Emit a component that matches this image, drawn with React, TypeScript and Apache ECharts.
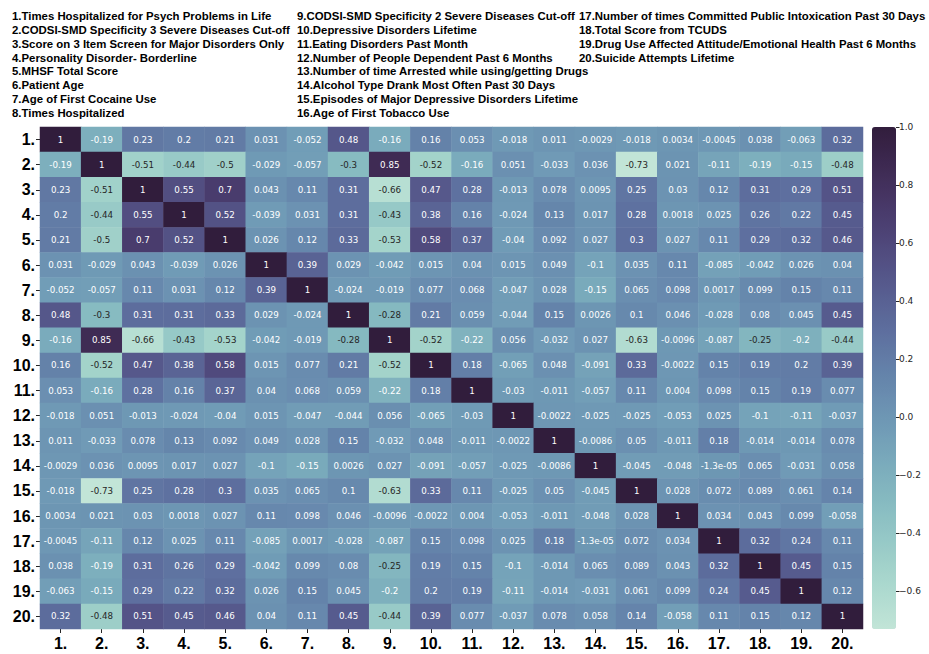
import React, { useEffect, useRef } from "react";
import * as echarts from "echarts";

// Variable names shown in the key above the matrix
const variableNames = [
  "Times Hospitalized for Psych Problems in Life",
  "CODSI-SMD Specificity 3 Severe Diseases Cut-off",
  "Score on 3 Item Screen for Major Disorders Only",
  "Personality Disorder- Borderline",
  "MHSF Total Score",
  "Patient Age",
  "Age of First Cocaine Use",
  "Times Hospitalized",
  "CODSI-SMD Specificity 2 Severe Diseases Cut-off",
  "Depressive Disorders Lifetime",
  "Eating Disorders Past Month",
  "Number of People Dependent Past 6 Months",
  "Number of time Arrested while using/getting Drugs",
  "Alcohol Type Drank Most Often Past 30 Days",
  "Episodes of Major Depressive Disorders Lifetime",
  "Age of First Tobacco Use",
  "Number of times Committed Public Intoxication Past 30 Days",
  "Total Score from TCUDS",
  "Drug Use Affected Attitude/Emotional Health Past 6 Months",
  "Suicide Attempts Lifetime",
];

const tickLabels = variableNames.map((_, i) => `${i + 1}.`);

// Correlation matrix, one row per variable
const row1 = [1, -0.19, 0.23, 0.2, 0.21, 0.031, -0.052, 0.48, -0.16, 0.16, 0.053, -0.018, 0.011, -0.0029, -0.018, 0.0034, -0.0045, 0.038, -0.063, 0.32];
const row2 = [-0.19, 1, -0.51, -0.44, -0.5, -0.029, -0.057, -0.3, 0.85, -0.52, -0.16, 0.051, -0.033, 0.036, -0.73, 0.021, -0.11, -0.19, -0.15, -0.48];
const row3 = [0.23, -0.51, 1, 0.55, 0.7, 0.043, 0.11, 0.31, -0.66, 0.47, 0.28, -0.013, 0.078, 0.0095, 0.25, 0.03, 0.12, 0.31, 0.29, 0.51];
const row4 = [0.2, -0.44, 0.55, 1, 0.52, -0.039, 0.031, 0.31, -0.43, 0.38, 0.16, -0.024, 0.13, 0.017, 0.28, 0.0018, 0.025, 0.26, 0.22, 0.45];
const row5 = [0.21, -0.5, 0.7, 0.52, 1, 0.026, 0.12, 0.33, -0.53, 0.58, 0.37, -0.04, 0.092, 0.027, 0.3, 0.027, 0.11, 0.29, 0.32, 0.46];
const row6 = [0.031, -0.029, 0.043, -0.039, 0.026, 1, 0.39, 0.029, -0.042, 0.015, 0.04, 0.015, 0.049, -0.1, 0.035, 0.11, -0.085, -0.042, 0.026, 0.04];
const row7 = [-0.052, -0.057, 0.11, 0.031, 0.12, 0.39, 1, -0.024, -0.019, 0.077, 0.068, -0.047, 0.028, -0.15, 0.065, 0.098, 0.0017, 0.099, 0.15, 0.11];
const row8 = [0.48, -0.3, 0.31, 0.31, 0.33, 0.029, -0.024, 1, -0.28, 0.21, 0.059, -0.044, 0.15, 0.0026, 0.1, 0.046, -0.028, 0.08, 0.045, 0.45];
const row9 = [-0.16, 0.85, -0.66, -0.43, -0.53, -0.042, -0.019, -0.28, 1, -0.52, -0.22, 0.056, -0.032, 0.027, -0.63, -0.0096, -0.087, -0.25, -0.2, -0.44];
const row10 = [0.16, -0.52, 0.47, 0.38, 0.58, 0.015, 0.077, 0.21, -0.52, 1, 0.18, -0.065, 0.048, -0.091, 0.33, -0.0022, 0.15, 0.19, 0.2, 0.39];
const row11 = [0.053, -0.16, 0.28, 0.16, 0.37, 0.04, 0.068, 0.059, -0.22, 0.18, 1, -0.03, -0.011, -0.057, 0.11, 0.004, 0.098, 0.15, 0.19, 0.077];
const row12 = [-0.018, 0.051, -0.013, -0.024, -0.04, 0.015, -0.047, -0.044, 0.056, -0.065, -0.03, 1, -0.0022, -0.025, -0.025, -0.053, 0.025, -0.1, -0.11, -0.037];
const row13 = [0.011, -0.033, 0.078, 0.13, 0.092, 0.049, 0.028, 0.15, -0.032, 0.048, -0.011, -0.0022, 1, -0.0086, 0.05, -0.011, 0.18, -0.014, -0.014, 0.078];
const row14 = [-0.0029, 0.036, 0.0095, 0.017, 0.027, -0.1, -0.15, 0.0026, 0.027, -0.091, -0.057, -0.025, -0.0086, 1, -0.045, -0.048, -1.3e-5, 0.065, -0.031, 0.058];
const row15 = [-0.018, -0.73, 0.25, 0.28, 0.3, 0.035, 0.065, 0.1, -0.63, 0.33, 0.11, -0.025, 0.05, -0.045, 1, 0.028, 0.072, 0.089, 0.061, 0.14];
const row16 = [0.0034, 0.021, 0.03, 0.0018, 0.027, 0.11, 0.098, 0.046, -0.0096, -0.0022, 0.004, -0.053, -0.011, -0.048, 0.028, 1, 0.034, 0.043, 0.099, -0.058];
const row17 = [-0.0045, -0.11, 0.12, 0.025, 0.11, -0.085, 0.0017, -0.028, -0.087, 0.15, 0.098, 0.025, 0.18, -1.3e-5, 0.072, 0.034, 1, 0.32, 0.24, 0.11];
const row18 = [0.038, -0.19, 0.31, 0.26, 0.29, -0.042, 0.099, 0.08, -0.25, 0.19, 0.15, -0.1, -0.014, 0.065, 0.089, 0.043, 0.32, 1, 0.45, 0.15];
const row19 = [-0.063, -0.15, 0.29, 0.22, 0.32, 0.026, 0.15, 0.045, -0.2, 0.2, 0.19, -0.11, -0.014, -0.031, 0.061, 0.099, 0.24, 0.45, 1, 0.12];
const row20 = [0.32, -0.48, 0.51, 0.45, 0.46, 0.04, 0.11, 0.45, -0.44, 0.39, 0.077, -0.037, 0.078, 0.058, 0.14, -0.058, 0.11, 0.15, 0.12, 1];

const corrRows = [row1, row2, row3, row4, row5, row6, row7, row8, row9, row10,
  row11, row12, row13, row14, row15, row16, row17, row18, row19, row20];

const colorbarTicks = [-0.6, -0.4, -0.2, 0, 0.2, 0.4, 0.6, 0.8, 1.0];

const V_MIN = Math.min(...corrRows.flat());
const V_MAX = 1;

// Cubehelix palette (start=0.5, rot=-0.5, light=0.85, dark=0.15)
function cubehelix(t: number): [number, number, number] {
  const x = 0.85 + (0.15 - 0.85) * t;
  const a = (0.8 * x * (1 - x)) / 2;
  const phi = 2 * Math.PI * (0.5 / 3 - 0.5 * x);
  const c = Math.cos(phi);
  const s = Math.sin(phi);
  const clip = (v: number) => Math.min(1, Math.max(0, v));
  return [
    clip(x + a * (-0.14861 * c + 1.78277 * s)),
    clip(x + a * (-0.29227 * c - 0.90649 * s)),
    clip(x + a * (1.97294 * c)),
  ];
}

const toHex = (rgb: [number, number, number]) =>
  "#" + rgb.map((v) => Math.round(v * 255).toString(16).padStart(2, "0")).join("");

const paletteStops = Array.from({ length: 41 }, (_, i) => toHex(cubehelix(i / 40)));

function luminance(rgb: [number, number, number]) {
  const lin = rgb.map((v) => (v <= 0.03928 ? v / 12.92 : Math.pow((v + 0.055) / 1.055, 2.4)));
  return 0.2126 * lin[0] + 0.7152 * lin[1] + 0.0722 * lin[2];
}

function fmt2g(v: number): string {
  if (v !== 0 && Math.abs(v) < 1e-4) {
    const [m, e] = v.toExponential(1).split("e");
    const sign = e[0] === "-" ? "-" : "+";
    const digits = e.replace(/[+-]/, "").padStart(2, "0");
    return `${m}e${sign}${digits}`;
  }
  return String(Number(v.toPrecision(2)));
}

export default function App() {
  const ref = useRef<HTMLDivElement>(null);

  useEffect(() => {
    if (!ref.current) return;
    const chart = echarts.init(ref.current, undefined, { renderer: "svg" });

    const data: any[] = [];
    corrRows.forEach((row, i) => {
      row.forEach((v, j) => {
        const t = (v - V_MIN) / (V_MAX - V_MIN);
        const dark = luminance(cubehelix(t)) > 0.408;
        data.push({
          value: [j, i, v],
          label: { color: dark ? "#262626" : "#ffffff" },
        });
      });
    });

    // Key text, three columns
    const colX = [12, 297, 579];
    const perCol = [8, 8, 4];
    const keyTexts: any[] = [];
    let idx = 0;
    perCol.forEach((n, c) => {
      for (let k = 0; k < n; k++) {
        keyTexts.push({
          type: "text",
          x: colX[c],
          y: 16 + k * 13.86,
          style: {
            text: `${idx + 1}.${variableNames[idx]}`,
            fill: "#000",
            font: "bold 11.4px 'Liberation Sans', Arial, sans-serif",
            verticalAlign: "middle",
            align: "left",
          },
        });
        idx++;
      }
    });

    const catLabel = {
      fontSize: 16,
      fontWeight: "bold" as const,
      color: "#000",
      fontFamily: "'Liberation Sans', Arial, sans-serif",
    };

    chart.setOption({
      animation: false,
      backgroundColor: "#ffffff",
      grid: [
        { left: 40, top: 127, width: 823, height: 502 },
        { left: 872, top: 127, width: 24, height: 502 },
      ],
      xAxis: [
        {
          type: "category",
          gridIndex: 0,
          data: tickLabels,
          position: "bottom",
          axisLine: { show: false },
          axisTick: { show: true, alignWithLabel: true, length: 4, lineStyle: { color: "#262626" } },
          axisLabel: { ...catLabel, margin: 6 },
          splitLine: { show: false },
        },
        { type: "category", gridIndex: 1, data: [""], show: false },
      ],
      yAxis: [
        {
          type: "category",
          gridIndex: 0,
          data: tickLabels,
          inverse: true,
          axisLine: { show: false },
          axisTick: { show: true, alignWithLabel: true, length: 4, lineStyle: { color: "#262626" } },
          axisLabel: { ...catLabel, margin: 5 },
          splitLine: { show: false },
        },
        {
          type: "value",
          gridIndex: 1,
          min: V_MIN,
          max: V_MAX,
          position: "right",
          axisLine: { show: false },
          axisTick: {
            show: true,
            length: 3.5,
            customValues: colorbarTicks,
            lineStyle: { color: "#262626" },
          },
          axisLabel: {
            customValues: colorbarTicks,
            formatter: (v: number) => v.toFixed(1).replace("-", "\u2212"),
            fontSize: 9,
            color: "#262626",
            fontFamily: "'DejaVu Sans', sans-serif",
            margin: 3,
          },
          splitLine: { show: false },
        },
      ],
      visualMap: {
        type: "continuous",
        seriesIndex: 0,
        min: V_MIN,
        max: V_MAX,
        calculable: false,
        orient: "vertical",
        left: 872,
        top: 127,
        itemWidth: 24,
        itemHeight: 502,
        padding: 0,
        text: undefined,
        showLabel: false,
        inRange: { color: paletteStops },
      },
      graphic: keyTexts,
      series: [
        {
          type: "heatmap",
          xAxisIndex: 0,
          yAxisIndex: 0,
          data,
          label: {
            show: true,
            fontSize: 8.7,
            fontFamily: "'DejaVu Sans', sans-serif",
            formatter: (p: any) => fmt2g(p.value[2]),
          },
          itemStyle: { borderWidth: 0 },
          emphasis: { disabled: true },
        },
      ],
    });

    return () => chart.dispose();
  }, []);

  return (
    <div
      ref={ref}
      style={{ position: "absolute", left: 0, top: 0, width: 929, height: 654 }}
    />
  );
}
